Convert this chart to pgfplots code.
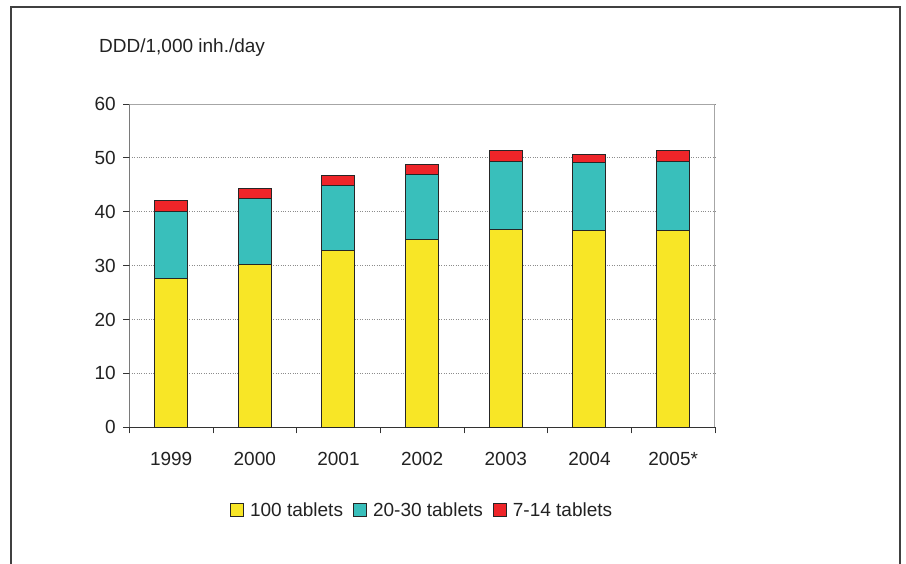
\documentclass[border=0pt]{standalone}
\usepackage{fontspec}
\setmainfont{Liberation Sans}
\usepackage{pgfplots}
\usepackage{pgfplotstable}
\pgfplotsset{compat=1.18}
\definecolor{cyel}{RGB}{248,230,38}
\definecolor{cteal}{RGB}{57,191,187}
\definecolor{cred}{RGB}{238,37,41}
\definecolor{ctext}{RGB}{34,34,34}
\pgfplotstableread{
x a b c
0 27.7 12.4 2.0
1 30.2 12.2 2.0
2 32.8 12.1 1.8
3 34.8 12.1 1.8
4 36.8 12.6 1.9
5 36.6 12.6 1.5
6 36.6 12.8 1.9
}\datatable
\begin{document}
\begin{tikzpicture}[font=\fontsize{19}{23}\selectfont, text=ctext]
\clip (0,0) rectangle (906pt,564pt);
\draw[line width=2pt, color=black!75] (11pt,-5pt) -- (11pt,557pt) -- (900pt,557pt) -- (900pt,-5pt);
\node[anchor=base west, inner sep=0pt] at (99pt,511.3pt) {DDD/1,000 inh./day};
\begin{axis}[
  at={(129.3pt,136.7pt)}, anchor=south west,
  scale only axis, width=585.7pt, height=323.3pt,
  ybar stacked, bar width=33pt,
  xmin=-0.5, xmax=6.5, ymin=0, ymax=60,
  ytick={0,10,...,60},
  xtick={-0.5,0.5,1.5,2.5,3.5,4.5,5.5,6.5},
  x tick label as interval,
  xticklabels={1999,2000,2001,2002,2003,2004,2005*},
  tick align=outside, major tick length=6pt,
  tick style={color=black!80, line width=0.8pt},
  xtick pos=bottom, ytick pos=left,
  /pgf/number format/assume math mode=true,
  yticklabel style={xshift=-4pt},
  xticklabel style={yshift=-15pt},
  axis line style={draw=none},
  ymajorgrids, grid style={dotted, color=black!45, line width=0.9pt},
  legend columns=3,
  legend style={draw=none, at={(0.5,-0.257)}, anchor=center,
    /tikz/every odd column/.append style={column sep=4pt},
    /tikz/every even column/.append style={column sep=8pt},
    font=\fontsize{19}{23}\selectfont},
  legend image code/.code={\draw[#1, draw=black!85, line width=1pt] (0pt,-6.5pt) rectangle (13pt,6.5pt);},
]
\addplot[fill=cyel, draw=black!85, line width=1pt] table[x=x,y=a] {\datatable};
\addplot[fill=cteal, draw=black!85, line width=1pt] table[x=x,y=b] {\datatable};
\addplot[fill=cred, draw=black!85, line width=1pt] table[x=x,y=c] {\datatable};
\legend{100 tablets, 20-30 tablets, 7-14 tablets}
\draw[color=black!35, line width=1pt] (rel axis cs:0,1) -- (rel axis cs:1,1) -- (rel axis cs:1,0);
\draw[color=black!80, line width=1pt] (rel axis cs:0,1) -- (rel axis cs:0,0) -- (rel axis cs:1,0);
\end{axis}
\end{tikzpicture}
\end{document}
